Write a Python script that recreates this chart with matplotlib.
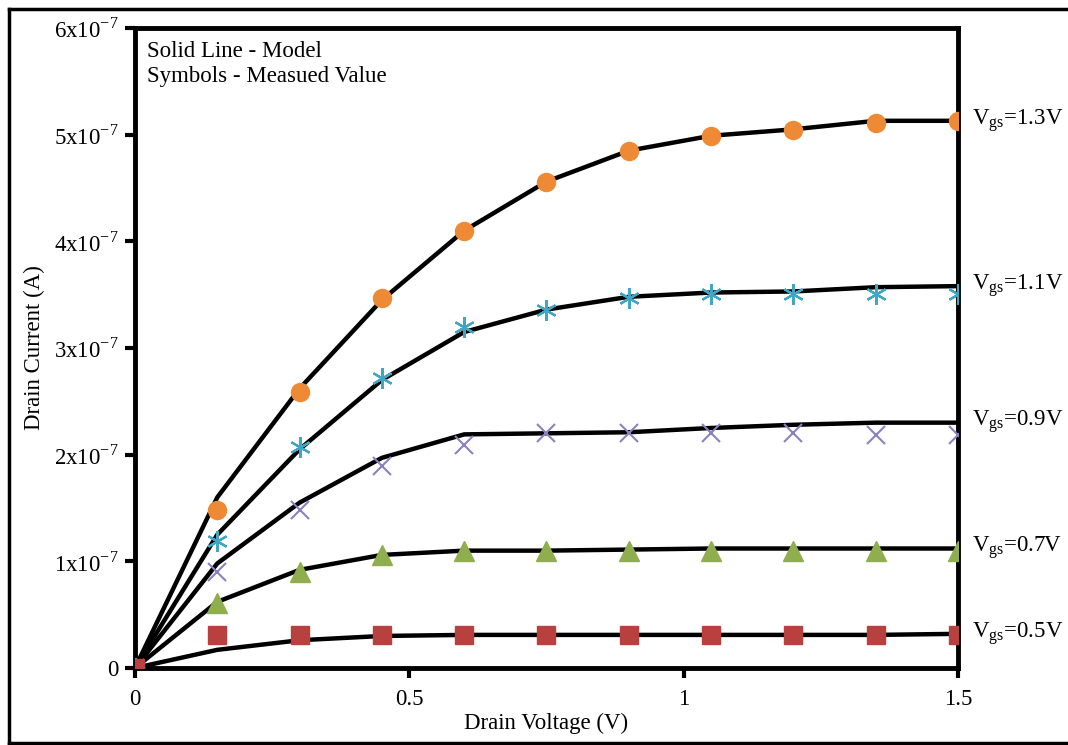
import matplotlib.pyplot as plt
from matplotlib.lines import Line2D

plt.rcParams['font.family'] = ['Liberation Serif', 'DejaVu Serif']

# drain voltage sweep (V)
vds = [0, 0.15, 0.3, 0.45, 0.6, 0.75, 0.9, 1.05, 1.2, 1.35, 1.5]

# measured drain current, units of 1e-7 A
meas_13 = [0, 1.48, 2.59, 3.47, 4.10, 4.56, 4.85, 4.99, 5.04, 5.11, 5.13]
meas_11 = [0, 1.19, 2.07, 2.72, 3.20, 3.36, 3.47, 3.51, 3.51, 3.51, 3.51]
meas_09 = [0, 0.90, 1.48, 1.89, 2.09, 2.20, 2.20, 2.20, 2.20, 2.18, 2.18]
meas_07 = [0, 0.61, 0.90, 1.06, 1.10, 1.10, 1.10, 1.10, 1.10, 1.10, 1.10]
meas_05 = [0, 0.31, 0.31, 0.31, 0.31, 0.31, 0.31, 0.31, 0.31, 0.31, 0.31]

# model drain current, units of 1e-7 A
model_13 = [0, 1.60, 2.62, 3.45, 4.10, 4.56, 4.85, 4.99, 5.05, 5.13, 5.13]
model_11 = [0, 1.25, 2.05, 2.70, 3.15, 3.36, 3.48, 3.52, 3.53, 3.57, 3.58]
model_09 = [0, 0.98, 1.55, 1.97, 2.19, 2.20, 2.21, 2.25, 2.28, 2.30, 2.30]
model_07 = [0, 0.62, 0.92, 1.06, 1.10, 1.10, 1.11, 1.12, 1.12, 1.12, 1.12]
model_05 = [0, 0.17, 0.26, 0.30, 0.31, 0.31, 0.31, 0.31, 0.31, 0.31, 0.32]

vgs_labels = ['1.3', '1.1', '0.9', '0.7', '0.5']

# (measured, model, marker, colour, size, edge width)
series = [
    (meas_13, model_13, 'o', '#EE8A35', 13, 1.0),
    (meas_11, model_11, (6, 2, 0), '#3FA6C4', 15, 1.6),
    (meas_09, model_09, 'x', '#8A82BE', 13, 1.5),
    (meas_07, model_07, '^', '#8FAE4E', 14, 1.0),
    (meas_05, model_05, 's', '#B8403F', 13, 1.0),
]

fig = plt.figure(figsize=(10.68, 7.45), dpi=100)
ax = fig.add_axes([0.1264, 0.1034, 0.7706, 0.859])

for meas, model, mk, col, ms, mew in series:
    ax.plot(vds, [v * 1e-7 for v in model], color='black', lw=3.2, zorder=2)
    ax.plot(vds, [v * 1e-7 for v in meas], ls='none', marker=mk, ms=ms,
            mew=mew, color=col, mec=col, zorder=3)

for lab, model in zip(vgs_labels, [model_13, model_11, model_09, model_07, model_05]):
    ax.annotate(r'V$_{\mathregular{gs}}$=' + lab + 'V', xy=(1.5, model[-1] * 1e-7),
                xytext=(10, 0), textcoords='offset points', va='center',
                ha='left', fontsize=16.5, annotation_clip=False)

ax.set_xlim(0, 1.5)
ax.set_ylim(0, 6e-7)
ax.set_xticks([0, 0.5, 1, 1.5])
ax.set_xticklabels(['0', '0.5', '1', '1.5'])
ax.set_yticks([i * 1e-7 for i in range(7)])
ax.set_yticklabels(['0'] + [r'%dx10$^{\mathregular{-7}}$' % i for i in range(1, 7)])
ax.tick_params(direction='out', length=7, width=3, labelsize=16.5, pad=5)
ax.tick_params(axis='x', pad=8)
for sp in ax.spines.values():
    sp.set_linewidth(3.5)

ax.set_xlabel('Drain Voltage (V)', fontsize=16.5, labelpad=2)
ax.set_ylabel('Drain Current (A)', fontsize=16.5, labelpad=6)

ax.text(0.015, 0.98, 'Solid Line - Model\nSymbols - Measued Value',
        transform=ax.transAxes, va='top', ha='left', fontsize=16.5,
        linespacing=1.25)

# thin frame round the whole figure
fig.add_artist(Line2D([9 / 1068, 9 / 1068], [2 / 745, 736 / 745],
                      transform=fig.transFigure, color='black', lw=2.5))
fig.add_artist(Line2D([9 / 1068, 1.0], [736 / 745, 736 / 745],
                      transform=fig.transFigure, color='black', lw=2.5))
fig.add_artist(Line2D([9 / 1068, 1.0], [2 / 745, 2 / 745],
                      transform=fig.transFigure, color='black', lw=2.5))

fig.savefig('out.png', dpi=100)
